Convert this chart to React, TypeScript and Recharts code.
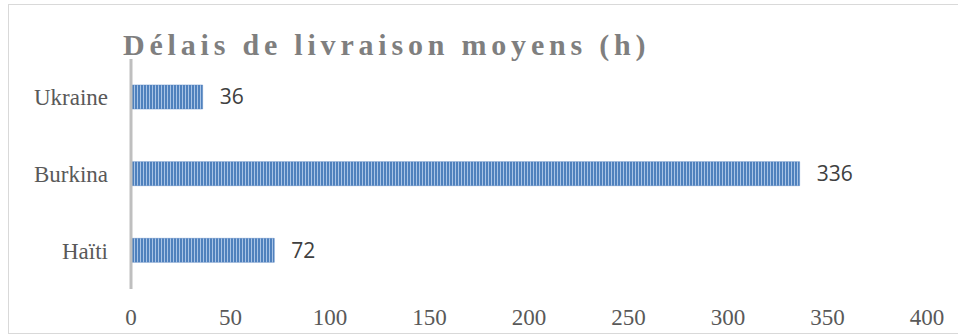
import { BarChart, Bar, XAxis, YAxis, LabelList } from 'recharts';

const countries = ['Ukraine', 'Burkina', 'Haïti'];
const delais = [36, 336, 72];
const xTicks = [0, 50, 100, 150, 200, 250, 300, 350, 400];

const data = countries.map((name, i) => ({ name, value: delais[i] }));

const serif = '"Liberation Serif", "Times New Roman", serif';

export default function App() {
  return (
    <div style={{ position: 'fixed', left: 0, top: 0, width: 958, height: 335, background: '#fff', overflow: 'hidden' }}>
      {/* cadre du graphique */}
      <div
        style={{
          position: 'absolute',
          left: 8,
          top: 4,
          width: 980,
          height: 328,
          border: '1.5px solid #d9d9d9',
        }}
      />
      <div
        style={{
          position: 'absolute',
          left: 123,
          top: 30,
          fontFamily: serif,
          fontWeight: 'bold',
          fontSize: 30,
          letterSpacing: 4.8,
          color: '#7f7f7f',
          whiteSpace: 'nowrap',
          lineHeight: '30px',
        }}
      >
        Délais de livraison moyens (h)
      </div>
      <div style={{ position: 'absolute', left: 0, top: 0 }}>
        <BarChart
          width={958}
          height={335}
          data={data}
          layout="vertical"
          margin={{ top: 59, right: 31, bottom: 0, left: 0 }}
          barSize={24}
        >
          <defs>
            <pattern id="stripes" width="3" height="4" patternUnits="userSpaceOnUse">
              <rect x="0" y="0" width="3" height="4" fill="#a9c4e6" />
              <rect x="0" y="0" width="2" height="4" fill="#4f81bd" />
            </pattern>
          </defs>
          <XAxis
            type="number"
            domain={[0, 400]}
            ticks={xTicks}
            axisLine={false}
            tickLine={false}
            tickSize={0}
            tickMargin={20}
            height={46}
            interval={0}
            tick={{ fill: '#595959', fontSize: 23, fontFamily: serif }}
          />
          <YAxis
            type="category"
            dataKey="name"
            width={131}
            tickLine={false}
            tickSize={0}
            tickMargin={23}
            axisLine={{ stroke: '#bfbfbf', strokeWidth: 3 }}
            tick={{ fill: '#595959', fontSize: 23, fontFamily: serif }}
          />
          <Bar dataKey="value" fill="url(#stripes)" stroke="#5a87c0" strokeWidth={0.5} isAnimationActive={false}>
            <LabelList
              dataKey="value"
              position="right"
              offset={17}
              fill="#404040"
              fontSize={21}
              fontFamily='"Open Sans", "Noto Sans", sans-serif'
            />
          </Bar>
        </BarChart>
      </div>
    </div>
  );
}
